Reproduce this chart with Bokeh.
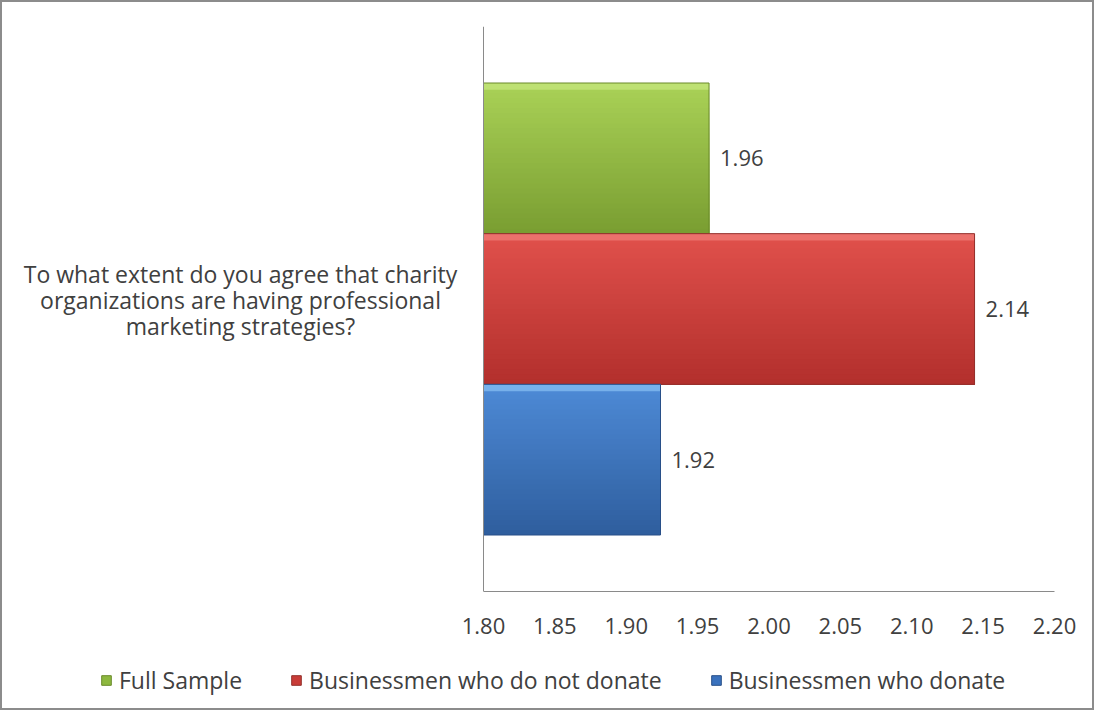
from bokeh.plotting import figure
from bokeh.layouts import column
from bokeh.models import (FactorRange, Range1d, ColumnDataSource, LabelSet, Legend,
                          LegendItem, FixedTicker, NumeralTickFormatter, CategoricalAxis)
from bokeh.core.properties import value
from bokeh.transform import dodge
from bokeh.embed import file_html
from bokeh.resources import INLINE

# ---- data ----
categories = ["To what extent do you agree that charity\norganizations are having professional\nmarketing strategies?"]
series = ["Full Sample", "Businessmen who do not donate", "Businessmen who donate"]
values = [1.958, 2.144, 1.924]
value_labels = ["1.96", "2.14", "1.92"]
x_ticks = [1.80, 1.85, 1.90, 1.95, 2.00, 2.05, 2.10, 2.15, 2.20]

# ---- style ----
FONT = "Open Sans"
TXT = "#404040"
top_cols = ["#A9D156", "#E0504B", "#4D8AD6"]
bot_cols = ["#7A9E32", "#B3302D", "#2F5E9E"]
hi_cols = ["#C6E67E", "#F07C77", "#86BEF2"]
edge_cols = ["#6A8A2A", "#93302C", "#284F88"]
leg_cols = ["#8DB83F", "#C93C38", "#3A72BE"]


def hex2rgb(c):
    c = c.lstrip("#")
    return [int(c[i:i + 2], 16) for i in (0, 2, 4)]


def mix(a, b, t):
    ra, rb = hex2rgb(a), hex2rgb(b)
    return "#%02x%02x%02x" % tuple(int(round(x + (y - x) * t)) for x, y in zip(ra, rb))


# ---- layout (pixels) ----
W = 1090
H_MAIN, H_LEG = 650, 56
MB_RIGHT, MB_TOP, MB_BOTTOM = 38, 24, 61
FRAME_W = W - MB_RIGHT          # frame starts at the left edge
AXIS_PX = 481                   # where the value axis starts inside the frame
LABEL_PX = 238                  # centre of the question text inside the frame

x0, x1 = x_ticks[0], x_ticks[-1]
px = (x1 - x0) / (FRAME_W - AXIS_PX)
x_start = x0 - AXIS_PX * px

p = figure(width=W, height=H_MAIN, output_backend="svg", toolbar_location=None,
           y_range=FactorRange(factors=categories, range_padding=0),
           x_range=Range1d(x_start, x1), y_axis_location=None,
           min_border_left=0, min_border_right=MB_RIGHT, min_border_top=MB_TOP,
           min_border_bottom=MB_BOTTOM)
p.outline_line_color = None
p.border_fill_color = "white"
p.xgrid.visible = False
p.ygrid.visible = False

n = len(series)
h = 0.8 / n
K = 30
for i, (s, v, lab) in enumerate(zip(series, values, value_labels)):
    off = (n - 1) / 2 * h - i * h
    top = off + h / 2
    bot = off - h / 2
    src = ColumnDataSource(dict(cat=categories, val=[v], lab=[lab]))
    # vertical gradient: overlapping slices from the top edge down to the bottom edge
    for k in range(K):
        t = top - k * h / K
        p.hbar(y=dodge("cat", (t + bot) / 2, range=p.y_range), right="val", left=x0,
               height=t - bot, source=src,
               fill_color=mix(top_cols[i], bot_cols[i], k / (K - 1)), line_color=None)
    # top highlight (bevel)
    p.hbar(y=dodge("cat", top - h / 44, range=p.y_range), right="val", left=x0,
           height=h / 22, source=src, fill_color=hi_cols[i], fill_alpha=0.75, line_color=None)
    p.hbar(y=dodge("cat", off, range=p.y_range), right="val", left=x0, height=h,
           source=src, fill_alpha=0, line_color=edge_cols[i], line_width=1)
    p.add_layout(LabelSet(x="val", y=dodge("cat", off, range=p.y_range), text="lab", source=src,
                          x_offset=11, text_baseline="middle", text_align="left",
                          text_font=value(FONT), text_font_size="22px", text_color=TXT))

# question text (category label), centred on its lines
qsrc = ColumnDataSource(dict(cat=categories, x=[x_start + LABEL_PX * px]))
p.text(x="x", y="cat", text="cat", source=qsrc, text_align="center", text_baseline="middle",
       y_offset=-9, text_font=value(FONT), text_font_size="23px", text_color=TXT,
       text_line_height=0.82)

# category axis line at the start of the value scale
ya = CategoricalAxis(fixed_location=x0, axis_line_color="#8a8a8a",
                     major_tick_line_color=None, minor_tick_line_color=None,
                     major_label_text_color=None, major_label_standoff=0)
p.add_layout(ya, "left")

xa = p.xaxis[0]
xa.bounds = (x0, x1)
xa.ticker = FixedTicker(ticks=x_ticks)
xa.formatter = NumeralTickFormatter(format="0.00")
xa.axis_line_color = "#8a8a8a"
xa.major_tick_line_color = None
xa.minor_tick_line_color = None
xa.major_label_text_font = FONT
xa.major_label_text_font_size = "22px"
xa.major_label_text_color = TXT
xa.major_label_standoff = 20

# legend strip under the chart (swatch renderers sit outside the visible range)
pl = figure(width=W, height=H_LEG, output_backend="svg", toolbar_location=None,
            x_range=Range1d(10, 11), y_range=Range1d(10, 11),
            x_axis_location=None, y_axis_location=None,
            min_border_left=0, min_border_right=0, min_border_top=0, min_border_bottom=0)
pl.outline_line_color = None
pl.xgrid.visible = False
pl.ygrid.visible = False
items = []
for i, s in enumerate(series):
    r = pl.rect(x=[0], y=[0], width=1, height=1, fill_color=leg_cols[i],
                line_color=edge_cols[i])
    items.append(LegendItem(label=s, renderers=[r]))
legend = Legend(items=items, orientation="horizontal", location=(98, 12),
                border_line_color=None, background_fill_alpha=0,
                padding=0, margin=0, spacing=48, label_standoff=7,
                glyph_width=12, glyph_height=12, label_height=24,
                label_text_font=FONT, label_text_font_size="23px", label_text_color=TXT)
pl.add_layout(legend, "center")

layout = column(p, pl, spacing=0)
layout.styles = {"border": "2px solid #8c8c8c", "width": "fit-content"}

open("out.html", "w").write(file_html(layout, INLINE))
